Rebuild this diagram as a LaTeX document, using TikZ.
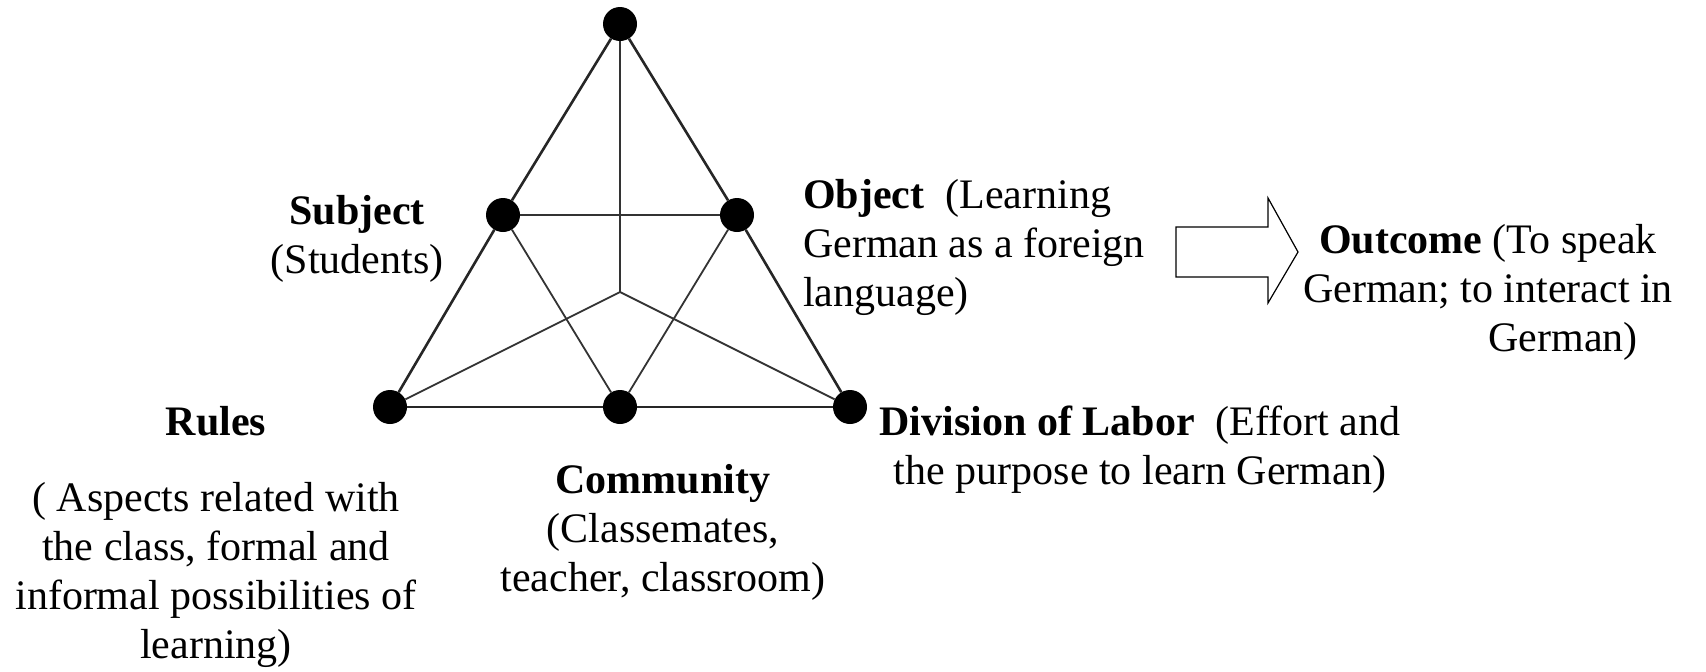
\documentclass[tikz,border=0pt]{standalone}
\usepackage{fontspec}
\setmainfont{Liberation Serif}
\begin{document}
\begin{tikzpicture}[x=1pt,y=-1pt,
  dot/.style={circle,fill=black,inner sep=0pt,minimum size=34pt},
  outerline/.style={draw=black!85,line width=2.6pt},
  innerline/.style={draw=black!80,line width=1.8pt},
  lbl/.style={font=\fontsize{42}{49}\selectfont,inner sep=0pt,align=center},
  bigarrow/.style={draw=black,line width=1.2pt,line join=miter}]
\useasboundingbox (0,0) rectangle (1706,672);

% vertices of the activity triangle
\node[dot] (top)  at (620,24)  {};
\node[dot] (subj) at (503,215) {};
\node[dot] (obj)  at (737,215) {};
\node[dot] (rul)  at (390,407) {};
\node[dot] (com)  at (620,407) {};
\node[dot] (div)  at (850,407) {};
\coordinate (mid) at (620,292);

% outer triangle
\draw[outerline] (top) -- (subj) -- (rul);
\draw[outerline] (top) -- (obj) -- (div);
\draw[outerline] (rul) -- (com) -- (div);
% inner connections
\draw[innerline] (subj) -- (obj);
\draw[innerline] (top) -- (mid);
\draw[innerline] (rul) -- (mid) -- (div);
\draw[innerline] (subj) -- (com) -- (obj);

% labels (anchored at the baseline of their last line)
\node[lbl,anchor=base] (ttop) at (745,-11) {)};
\node[lbl,anchor=base] (tsubj) at (357,273) {\textbf{Subject}\\(Students)};
\node[lbl,anchor=base west,align=left] (tobj) at (803,306) {\textbf{Object}~~(Learning\\German as a foreign\\language)};
\node[lbl,anchor=base] (tout) at (1488,351) {\textbf{Outcome} (To speak\\German; to interact in\\\hspace*{150pt}German)};
\node[lbl,anchor=base] (trul) at (216,435) {\textbf{Rules}};
\node[lbl,anchor=base] (truld) at (216,658) {( Aspects related with\\the class, formal and\\informal possibilities of\\learning)};
\node[lbl,anchor=base] (tcom) at (663,591) {\textbf{Community}\\(Classemates,\\teacher, classroom)};
\node[lbl,anchor=base] (tdiv) at (1140,484) {\textbf{Division of Labor}~~(Effort and\\the purpose to learn German)};

% block arrow towards the outcome
\draw[bigarrow] (1176,227) -- (1268,227) -- (1268,198) -- (1298,252)
  -- (1268,303) -- (1268,277) -- (1176,277) -- cycle;
\end{tikzpicture}
\end{document}
